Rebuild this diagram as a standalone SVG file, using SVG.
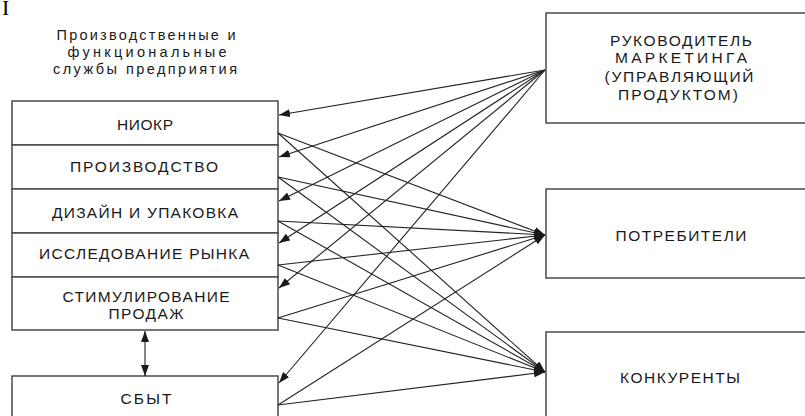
<svg xmlns="http://www.w3.org/2000/svg" width="805" height="416" viewBox="0 0 805 416">
<style>
.box{fill:#fff;stroke:#4a4a4a;stroke-width:1.5}
.lbl{font-family:"Liberation Sans",Arial,sans-serif;font-size:15.5px;fill:#1a1a1a;text-anchor:middle}
.hdr{font-family:"Liberation Sans",Arial,sans-serif;font-size:14.5px;fill:#1a1a1a;text-anchor:middle}
.ln{stroke:#222;stroke-width:1.1;fill:none}
</style>
<defs>
<marker id="ah" viewBox="0 0 11 8" refX="11" refY="4" markerWidth="11" markerHeight="8" markerUnits="userSpaceOnUse" orient="auto-start-reverse">
<path d="M0,0 L11,4 L0,8 Z" fill="#1a1a1a"/>
</marker>
</defs>
<rect width="805" height="416" fill="#fff"/>
<text x="2" y="15" font-family="Liberation Serif,serif" font-size="22" fill="#000">I</text>
<g id="header">
<text class="hdr" x="146" y="40" textLength="179" lengthAdjust="spacing">Производственные и</text>
<text class="hdr" x="147" y="57" textLength="159" lengthAdjust="spacing">функциональные</text>
<text class="hdr" x="145" y="74" textLength="184" lengthAdjust="spacing">службы предприятия</text>
</g>
<g id="niokr"><rect class="box" x="12" y="101" width="266" height="44"/><text class="lbl" x="145" y="130" textLength="56" lengthAdjust="spacing">НИОКР</text></g>
<g id="production"><rect class="box" x="12" y="145" width="266" height="44"/><text class="lbl" x="144" y="172" textLength="148" lengthAdjust="spacing">ПРОИЗВОДСТВО</text></g>
<g id="design"><rect class="box" x="12" y="189" width="266" height="44"/><text class="lbl" x="145" y="218" textLength="186" lengthAdjust="spacing">ДИЗАЙН И УПАКОВКА</text></g>
<g id="research"><rect class="box" x="12" y="233" width="266" height="44"/><text class="lbl" x="144" y="259" textLength="210" lengthAdjust="spacing">ИССЛЕДОВАНИЕ РЫНКА</text></g>
<g id="promo"><rect class="box" x="12" y="277" width="266" height="53"/><text class="lbl" x="146" y="302" textLength="167" lengthAdjust="spacing">СТИМУЛИРОВАНИЕ</text><text class="lbl" x="146" y="319" textLength="75" lengthAdjust="spacing">ПРОДАЖ</text></g>
<g id="sales"><rect class="box" x="12" y="376" width="266" height="60"/><text class="lbl" x="146" y="404" textLength="51" lengthAdjust="spacing">СБЫТ</text></g>
<g id="manager"><rect class="box" x="546" y="13" width="280" height="110"/>
<text class="lbl" x="681" y="46" textLength="142" lengthAdjust="spacing">РУКОВОДИТЕЛЬ</text>
<text class="lbl" x="681" y="63" textLength="132" lengthAdjust="spacing">МАРКЕТИНГА</text>
<text class="lbl" x="679" y="82" textLength="149" lengthAdjust="spacing">(УПРАВЛЯЮЩИЙ</text>
<text class="lbl" x="678" y="100" textLength="120" lengthAdjust="spacing">ПРОДУКТОМ)</text></g>
<g id="consumers"><rect class="box" x="546" y="189" width="280" height="89"/><text class="lbl" x="681" y="241" textLength="131" lengthAdjust="spacing">ПОТРЕБИТЕЛИ</text></g>
<g id="competitors"><rect class="box" x="546" y="332" width="280" height="100"/><text class="lbl" x="680" y="383" textLength="120" lengthAdjust="spacing">КОНКУРЕНТЫ</text></g>
<g id="connectors">
<line class="ln" x1="145" y1="331" x2="145" y2="376" marker-start="url(#ah)" marker-end="url(#ah)"/>
<line class="ln" x1="545" y1="70" x2="279" y2="115" marker-end="url(#ah)"/>
<line class="ln" x1="545" y1="70" x2="279" y2="157" marker-end="url(#ah)"/>
<line class="ln" x1="545" y1="70" x2="279" y2="201" marker-end="url(#ah)"/>
<line class="ln" x1="545" y1="70" x2="279" y2="243" marker-end="url(#ah)"/>
<line class="ln" x1="545" y1="70" x2="279" y2="288" marker-end="url(#ah)"/>
<line class="ln" x1="545" y1="70" x2="279" y2="383" marker-end="url(#ah)"/>
<line class="ln" x1="278" y1="133" x2="545" y2="235" marker-end="url(#ah)"/>
<line class="ln" x1="278" y1="177" x2="545" y2="235" marker-end="url(#ah)"/>
<line class="ln" x1="278" y1="221" x2="545" y2="235" marker-end="url(#ah)"/>
<line class="ln" x1="278" y1="265" x2="545" y2="235" marker-end="url(#ah)"/>
<line class="ln" x1="278" y1="318" x2="545" y2="235" marker-end="url(#ah)"/>
<line class="ln" x1="278" y1="405" x2="545" y2="235" marker-end="url(#ah)"/>
<line class="ln" x1="278" y1="133" x2="545" y2="372" marker-end="url(#ah)"/>
<line class="ln" x1="278" y1="177" x2="545" y2="372" marker-end="url(#ah)"/>
<line class="ln" x1="278" y1="221" x2="545" y2="372" marker-end="url(#ah)"/>
<line class="ln" x1="278" y1="265" x2="545" y2="372" marker-end="url(#ah)"/>
<line class="ln" x1="278" y1="318" x2="545" y2="372" marker-end="url(#ah)"/>
<line class="ln" x1="278" y1="405" x2="545" y2="372" marker-end="url(#ah)"/>
</g>
</svg>
